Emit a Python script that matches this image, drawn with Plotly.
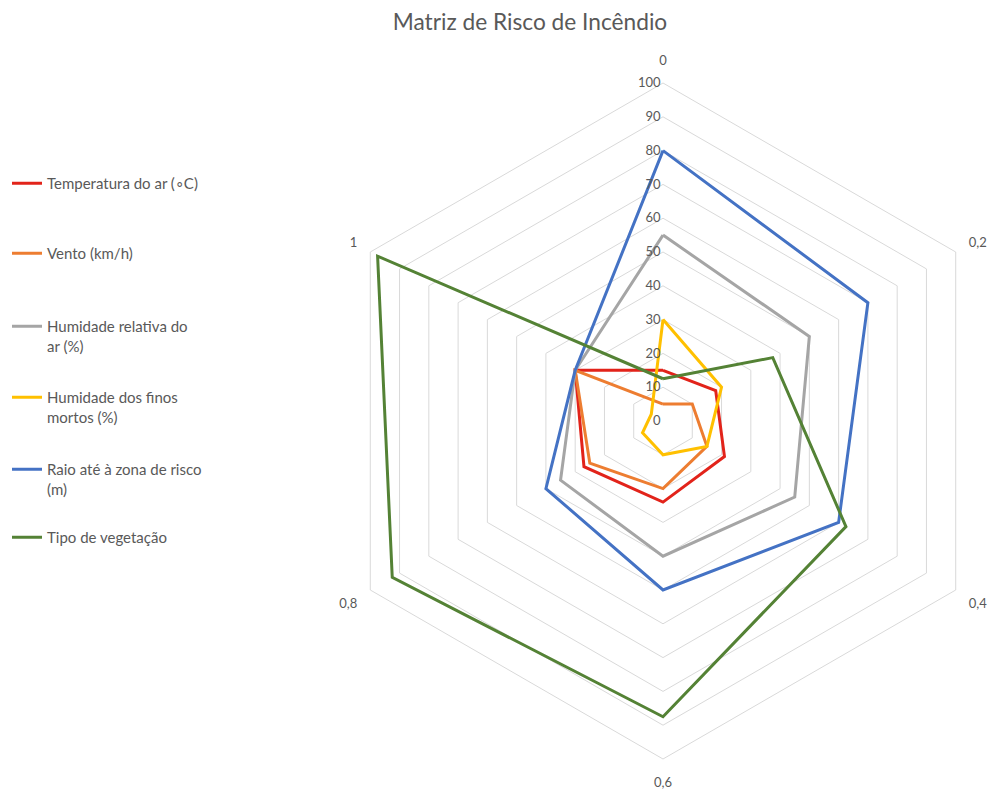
import plotly.graph_objects as go

categories = ["0", "0,2", "0,4", "0,6", "0,8", "1"]

temperatura = [15, 18, 21, 24, 27, 30]
vento = [5, 10, 15, 20, 25, 30]
humidade_ar = [55, 50, 45, 40, 35, 30]
humidade_finos = [30, 20, 15, 10, 7, 4]
raio = [80, 70, 60, 50, 40, 30]
vegetacao = [12.5, 37.5, 62.5, 87.5, 92.5, 97.5]

series_names = [
    "Temperatura do ar (∘C)",
    "Vento (km/h)",
    "Humidade relativa do<br>ar (%)",
    "Humidade dos finos<br>mortos (%)",
    "Raio até à zona de risco<br>(m)",
    "Tipo de vegetação",
]
series_values = [temperatura, vento, humidade_ar, humidade_finos, raio, vegetacao]
colors = ["#E2231A", "#ED7D31", "#A5A5A5", "#FFC000", "#4472C4", "#548235"]

W, H = 1001, 796
cx, cy, R = 663, 421, 338

legend_y_px = [184, 254, 327, 398, 470, 538]
legend_keys = ["legend", "legend2", "legend3", "legend4", "legend5", "legend6"]

fig = go.Figure()
for name, vals, col, lk in zip(series_names, series_values, colors, legend_keys):
    fig.add_trace(go.Scatterpolar(
        r=vals + [vals[0]],
        theta=categories + [categories[0]],
        mode="lines",
        line=dict(color=col, width=3),
        name=name,
        legend=lk,
    ))

layout_legends = {}
for lk, ypx in zip(legend_keys, legend_y_px):
    layout_legends[lk] = dict(
        x=7 / W, xanchor="left", xref="container",
        y=1 - (ypx - 17) / H, yanchor="top", yref="container",
        bgcolor="rgba(0,0,0,0)", borderwidth=0,
        font=dict(family="Lato, sans-serif", size=15, color="#595959"),
        valign="top",
    )

fig.update_layout(
    width=W, height=H,
    margin=dict(l=0, r=0, t=0, b=0, autoexpand=False),
    paper_bgcolor="white",
    showlegend=True,
    title=dict(
        text="Matriz de Risco de Incêndio",
        x=530 / W, xanchor="center", xref="container",
        y=1 - 22 / H, yanchor="middle", yref="container",
        font=dict(family="Lato, sans-serif", size=22.7, color="#595959"),
    ),
    polar=dict(
        domain=dict(x=[(cx - R) / W, (cx + R) / W],
                    y=[(H - cy - R) / H, (H - cy + R) / H]),
        gridshape="linear",
        bgcolor="white",
        angularaxis=dict(
            direction="clockwise", rotation=90,
            showgrid=False, showline=True, linecolor="#d9d9d9", linewidth=1,
            ticks="outside", ticklen=12, tickcolor="rgba(0,0,0,0)",
            categoryorder="array", categoryarray=categories,
            tickfont=dict(family="Lato, sans-serif", size=13, color="#595959"),
        ),
        radialaxis=dict(
            range=[0, 100], dtick=10, angle=90, side="counterclockwise",
            showline=False, ticks="", gridcolor="#d9d9d9", gridwidth=1,
            tickangle=90,
            tickfont=dict(family="Lato, sans-serif", size=13, color="#595959"),
        ),
    ),
    **layout_legends,
)

fig.write_html("out.html")
